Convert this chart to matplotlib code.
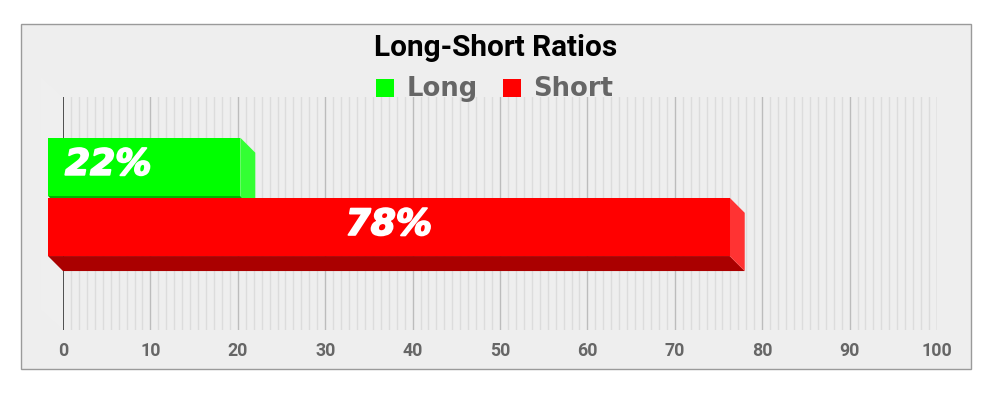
import matplotlib
matplotlib.use("Agg")
import matplotlib.pyplot as plt
import matplotlib.patheffects as pe
from matplotlib.patches import Polygon, Rectangle
import numpy as np

# ---- data ----
series = ["Long", "Short"]
values = [22, 78]
labels = ["22%", "78%"]
face_colors = ["#00ff00", "#ff0000"]
side_colors = ["#33ff33", "#ff3333"]
bottom_colors = ["#00b200", "#aa0000"]
bar_bottoms = [0.511, 0.253]   # y (axes units 0..1) of back faces
bar_height = 0.25
xticks = list(range(0, 101, 10))
title = "Long-Short Ratios"

W, H = 1000, 401
fig = plt.figure(figsize=(W / 100, H / 100), dpi=100)
fig.patch.set_facecolor("white")

def fx(x):
    return x / W

def fy(y):
    return 1 - y / H

# outer panel
fig.patches.append(Rectangle((fx(20.5), fy(368.5)), (970.5 - 20.5) / W, (368.5 - 23.5) / H,
                             transform=fig.transFigure, facecolor="#eeeeee",
                             edgecolor="#9a9a9a", lw=1.0, zorder=-3))
# faint left wall of 3D plot area
fig.patches.append(Polygon([(fx(41), fy(77)), (fx(63), fy(97)), (fx(63), fy(330)), (fx(41), fy(310))],
                           closed=True, transform=fig.transFigure, facecolor="#efefef",
                           edgecolor="none", zorder=-2))

left, right, top, bottom = 63, 937, 97, 330
ax = fig.add_axes([fx(left), fy(bottom), (right - left) / W, (bottom - top) / H])
ax.set_facecolor("none")
ax.patch.set_alpha(0)
ax.set_xlim(0, 100)
ax.set_ylim(0, 1)
for s in ax.spines.values():
    s.set_visible(False)
ax.set_yticks([])
ax.set_xticks(xticks)
ax.set_xticklabels([str(t) for t in xticks], fontfamily="Roboto", fontweight="bold",
                   fontsize=12.8, color="#666666")
ax.tick_params(axis="x", length=0, pad=9)

# grid: 10 minor lines between majors
for i in range(len(xticks) - 1):
    a, b = xticks[i], xticks[i + 1]
    for k in range(1, 11):
        ax.axvline(a + (b - a) * k / 11, color="#dcdcdc", lw=1.0, zorder=1)
for t in xticks[1:]:
    ax.axvline(t, color="#bcbcbc", lw=1.0, zorder=1.5)
ax.axvline(0, color="#333333", lw=1.2, zorder=1.6)

# 3D depth offsets in data units
px_x = (right - left) / 100.0
px_y = (bottom - top) / 1.0
dx = -15 / px_x
dy = 15 / px_y

stroke = [pe.withStroke(linewidth=1.3, foreground="white")]
for i, (v, y0) in enumerate(zip(values, bar_bottoms)):
    y1 = y0 + bar_height
    # bottom face
    ax.add_patch(Polygon([(0, y0), (v, y0), (v + dx, y0 + dy), (dx, y0 + dy)], closed=True,
                         facecolor=bottom_colors[i], edgecolor="none", zorder=3 + i, clip_on=False))
    # right side face
    ax.add_patch(Polygon([(v, y0), (v, y1), (v + dx, y1 + dy), (v + dx, y0 + dy)], closed=True,
                         facecolor=side_colors[i], edgecolor="none", zorder=3 + i, clip_on=False))
    # front face
    ax.add_patch(Polygon([(dx, y0 + dy), (v + dx, y0 + dy), (v + dx, y1 + dy), (dx, y1 + dy)],
                         closed=True, facecolor=face_colors[i], edgecolor="none",
                         zorder=3.5 + i, clip_on=False))
    yc = y0 + dy + bar_height / 2 - 8 / px_y
    if i == 0:
        ax.text(dx + 17 / px_x, yc, labels[i], ha="left", va="baseline", color="white",
                fontfamily="DejaVu Sans", fontweight="bold", fontstyle="oblique",
                fontsize=26, zorder=10, path_effects=stroke)
    else:
        ax.text(dx + v / 2, yc, labels[i], ha="center", va="baseline", color="white",
                fontfamily="DejaVu Sans", fontweight="bold", fontstyle="oblique",
                fontsize=26, zorder=10, path_effects=stroke)

# title
fig.text(fx(496), fy(56.5), title, ha="center", va="baseline", fontfamily="Roboto",
         fontweight="bold", fontsize=21.4, color="black")

# legend
leg_sq = [(376, 79), (503, 79)]
leg_tx = [407, 533]
for i in range(len(series)):
    sx, sy = leg_sq[i]
    fig.patches.append(Rectangle((fx(sx), fy(sy + 18)), 18 / W, 18 / H, transform=fig.transFigure,
                                 facecolor=face_colors[i], edgecolor="none", zorder=2))
    fig.text(fx(leg_tx[i]), fy(95.5), series[i], ha="left", va="baseline",
             fontfamily="DejaVu Sans", fontweight="bold", fontsize=18.6, color="#666666")

fig.savefig("out.png", dpi=100, facecolor="white")
